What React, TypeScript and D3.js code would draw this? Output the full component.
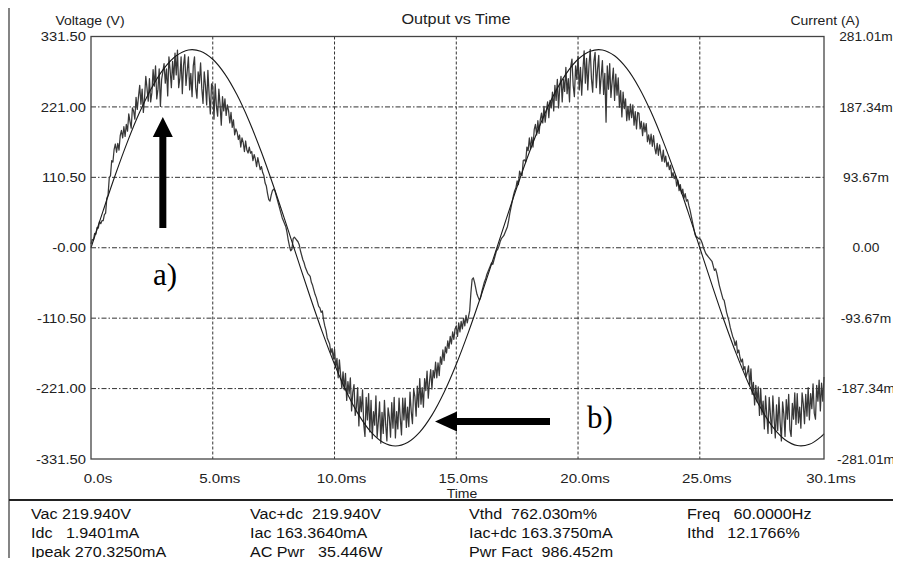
import React from "react";
import * as d3 from "d3";

// ---- Data ----
const voltageTimeMs = [
  0, 0.5, 1, 1.5, 2, 2.5, 3, 3.5, 4, 4.5, 5, 5.5, 6, 6.5, 7, 7.5, 8, 8.5, 9, 9.5,
  10, 10.5, 11, 11.5, 12, 12.5, 13, 13.5, 14, 14.5, 15, 15.5, 16, 16.5, 17, 17.5,
  18, 18.5, 19, 19.5, 20, 20.5, 21, 21.5, 22, 22.5, 23, 23.5, 24, 24.5, 25, 25.5,
  26, 26.5, 27, 27.5, 28, 28.5, 29, 29.5, 30, 30.1,
];
const voltageV = [
  0, 58.3, 114.5, 166.6, 212.9, 251.6, 281.4, 301.2, 310.4, 308.5, 295.8, 272.5,
  239.6, 198.2, 149.8, 96.1, 39.0, -19.5, -77.3, -132.4, -182.8, -226.7, -262.6,
  -289.2, -305.5, -311, -305.5, -289.2, -262.6, -226.7, -182.8, -132.4, -77.3,
  -19.5, 39.0, 96.1, 149.8, 198.2, 239.6, 272.5, 295.8, 308.5, 310.4, 301.2,
  281.4, 251.6, 212.9, 166.6, 114.5, 58.3, 0, -58.3, -114.5, -166.6, -212.9,
  -251.6, -281.4, -301.2, -310.4, -308.5, -295.8, -291.9,
];

// current samples (mA), one every 0.05 ms from 0 ms
const currentStepMs = 0.05;
const currentMA = [
  5, 11, 10, 19, 18, 27, 26, 35, 32, 36,
  36, 44, 46, 66, 70, 93, 96, 116, 114, 131,
  138, 127, 139, 130, 149, 156, 146, 161, 148, 164,
  155, 178, 168, 159, 186, 182, 171, 200, 184, 201,
  216, 191, 211, 180, 200, 228, 212, 195, 225, 194,
  206, 237, 215, 242, 198, 211, 238, 188, 224, 234,
  245, 219, 238, 202, 254, 236, 213, 248, 224, 259,
  230, 263, 213, 226, 254, 205, 243, 257, 216, 235,
  254, 210, 232, 201, 242, 254, 213, 199, 234, 219,
  246, 212, 192, 234, 216, 190, 236, 204, 178, 218,
  215, 171, 218, 188, 175, 211, 190, 163, 201, 182,
  198, 176, 190, 182, 166, 180, 160, 170, 150, 158,
  154, 144, 150, 134, 146, 140, 128, 142, 130, 126,
  134, 126, 128, 116, 124, 118, 108, 120, 112, 104,
  108, 100, 96, 86, 82, 72, 64, 62, 70, 76,
  78, 76, 70, 64, 58, 52, 46, 40, 36, 32,
  28, 20, 10, 2, -4, -2, 12, 14, 12, 10,
  8, 4, -4, -10, -16, -20, -26, -30, -34, -36,
  -38, -46, -50, -56, -62, -66, -72, -78, -80, -86,
  -84, -96, -104, -110, -120, -124, -128, -140, -134, -148,
  -135, -159, -147, -173, -149, -169, -187, -165, -189, -167,
  -203, -178, -194, -173, -217, -192, -182, -223, -212, -186,
  -237, -198, -218, -189, -235, -251, -199, -229, -194, -245,
  -203, -254, -218, -236, -197, -252, -231, -205, -260, -219,
  -247, -203, -235, -257, -213, -225, -252, -206, -240, -199,
  -253, -218, -241, -200, -227, -249, -200, -229, -200, -239,
  -212, -238, -192, -218, -234, -188, -198, -224, -184, -212,
  -174, -208, -186, -212, -174, -190, -164, -200, -178, -162,
  -188, -163, -173, -152, -173, -153, -170, -145, -155, -136,
  -150, -132, -140, -124, -134, -118, -128, -112, -122, -108,
  -104, -118, -100, -112, -98, -108, -94, -104, -90, -100,
  -92, -84, -60, -42, -40, -46, -54, -62, -66, -70,
  -66, -58, -52, -46, -42, -36, -32, -28, -24, -20,
  -22, -16, -10, -4, -2, 2, 8, 12, 14, 16,
  20, 24, 28, 36, 46, 54, 62, 70, 76, 80,
  89, 84, 102, 97, 96, 116, 117, 114, 134, 129,
  146, 131, 147, 134, 157, 164, 150, 169, 152, 170,
  179, 166, 188, 167, 182, 194, 173, 196, 186, 207,
  182, 216, 196, 224, 186, 214, 228, 194, 224, 208,
  240, 205, 225, 194, 241, 251, 216, 201, 242, 224,
  255, 210, 240, 203, 236, 262, 219, 252, 210, 243,
  264, 225, 207, 248, 260, 213, 237, 256, 205, 228,
  249, 204, 232, 167, 242, 211, 245, 200, 221, 239,
  196, 231, 203, 226, 187, 209, 174, 207, 185, 198,
  169, 188, 170, 191, 173, 190, 163, 181, 158, 180,
  179, 158, 168, 149, 166, 154, 165, 141, 150, 138,
  151, 135, 149, 133, 125, 139, 123, 137, 125, 115,
  130, 114, 122, 108, 114, 104, 110, 94, 100, 92,
  96, 82, 90, 76, 84, 72, 78, 66, 72, 62,
  64, 56, 50, 42, 34, 26, 18, 14, 14, 12,
  12, 10, 6, 0, -4, -8, -10, -12, -14, -16,
  -18, -24, -30, -28, -34, -42, -50, -56, -62, -68,
  -70, -78, -86, -92, -98, -106, -112, -118, -122, -130,
  -124, -140, -136, -146, -152, -148, -162, -158, -172, -166,
  -157, -183, -161, -195, -179, -209, -183, -205, -185, -223,
  -187, -222, -204, -241, -197, -222, -247, -199, -222, -247,
  -197, -227, -253, -209, -243, -199, -233, -257, -205, -221,
  -251, -202, -228, -195, -242, -251, -207, -228, -193, -235,
  -194, -233, -212, -240, -193, -208, -234, -195, -224, -186,
  -229, -194, -214, -181, -220, -228, -183, -204, -176, -217,
  -180, -204, -172,
];

const xTickValues = [0, 5, 10, 15, 20, 25, 30.1];
const xTickLabels = ["0.0s", "5.0ms", "10.0ms", "15.0ms", "20.0ms", "25.0ms", "30.1ms"];
const vTickValues = [331.5, 221, 110.5, 0, -110.5, -221, -331.5];
const vTickLabels = ["331.50", "221.00", "110.50", "-0.00", "-110.50", "-221.00", "-331.50"];
const iTickValues = [281.01, 187.34, 93.67, 0, -93.67, -187.34, -281.01];
const iTickLabels = ["281.01m", "187.34m", "93.67m", "0.00", "-93.67m", "-187.34m", "-281.01m"];
const gridX = [5, 10, 15, 20, 25];
const gridV = [221, 110.5, 0, -110.5, -221];

const statsColumns = [
  ["Vac 219.940V", "Idc   1.9401mA", "Ipeak 270.3250mA"],
  ["Vac+dc  219.940V", "Iac 163.3640mA", "AC Pwr   35.446W"],
  ["Vthd  762.030m%", "Iac+dc 163.3750mA", "Pwr Fact  986.452m"],
  ["Freq   60.0000Hz", "Ithd   12.1766%"],
];

// ---- Layout ----
const W = 901;
const H = 566;
const L = 91, R = 824, T = 36.5, B = 459;
const SX = 1.12;
const FONT = "'Liberation Sans', Arial, Helvetica, sans-serif";
const SERIF = "'Liberation Serif', 'Times New Roman', serif";

function ST({ x, y, size, anchor = "start", children, fill = "#222" }: any) {
  return (
    <g transform={`translate(${x},${y}) scale(${SX},1)`}>
      <text
        x={0}
        y={0}
        fontSize={size}
        fontFamily={FONT}
        textAnchor={anchor}
        fill={fill}
        style={{ whiteSpace: "pre" }}
      >
        {children}
      </text>
    </g>
  );
}

export default function App() {
  const x = d3.scaleLinear().domain([0, 30.1]).range([L, R]);
  const yV = d3.scaleLinear().domain([-331.5, 331.5]).range([B, T]);
  const yI = d3.scaleLinear().domain([-281.01, 281.01]).range([B, T]);

  const vLine = d3
    .line<number>()
    .x((_, i) => x(voltageTimeMs[i]))
    .y((d) => yV(d))
    .curve(d3.curveCatmullRom.alpha(0.5));
  const iLine = d3
    .line<number>()
    .x((_, i) => x(Math.min(i * currentStepMs, 30.1)))
    .y((d) => yI(d));

  const colX = [31, 250, 469, 687];
  const rowY = [519, 538, 557];

  return (
    <div style={{ margin: -8 }}>
      <svg width={W} height={H} style={{ display: "block", background: "#fff" }}>
        {/* outer frame */}
        <line x1={9} y1={5} x2={W} y2={5} stroke="#333" strokeWidth={1.2} />
        <line x1={9} y1={5} x2={9} y2={H} stroke="#333" strokeWidth={1.2} />
        <line x1={9} y1={500} x2={W} y2={500} stroke="#222" strokeWidth={2} />

        {/* grid */}
        {gridX.map((g) => (
          <line key={"gx" + g} x1={x(g)} x2={x(g)} y1={T} y2={B} stroke="#333" strokeWidth={1} strokeDasharray="3,2" />
        ))}
        {gridV.map((g) => (
          <line key={"gy" + g} x1={L} x2={R} y1={yV(g)} y2={yV(g)} stroke="#333" strokeWidth={1} strokeDasharray="5,2,1.5,2" />
        ))}

        {/* series */}
        <path d={iLine(currentMA) || ""} fill="none" stroke="#383838" strokeWidth={1.25} strokeLinejoin="round" />
        <path d={vLine(voltageV) || ""} fill="none" stroke="#1a1a1a" strokeWidth={1.1} />

        {/* plot border */}
        <rect x={L} y={T} width={R - L} height={B - T} fill="none" stroke="#444" strokeWidth={1.3} />

        {/* titles */}
        <ST x={456} y={24} size={14.5} anchor="middle">Output vs Time</ST>
        <ST x={90} y={25} size={12.5} anchor="middle">Voltage (V)</ST>
        <ST x={825} y={25} size={12.5} anchor="middle">Current (A)</ST>
        <ST x={462} y={498} size={12.5} anchor="middle">Time</ST>

        {/* left ticks */}
        {vTickValues.map((v, i) => (
          <ST key={"vl" + i} x={86} y={yV(v) + 4.7} size={13.2} anchor="end">{vTickLabels[i]}</ST>
        ))}
        {/* right ticks */}
        {iTickValues.map((v, i) => (
          <ST key={"il" + i} x={866} y={yI(v) + 4.6} size={12.3} anchor="middle">{iTickLabels[i]}</ST>
        ))}
        {/* x ticks */}
        {xTickValues.map((v, i) => (
          <ST key={"xl" + i} x={x(v) + 7} y={483} size={13.5} anchor="middle">{xTickLabels[i]}</ST>
        ))}

        {/* annotations */}
        <line x1={x(2.95)} x2={x(2.95)} y1={228} y2={136} stroke="#000" strokeWidth={7} />
        <path
          d={`M${x(2.95)},117 L${x(2.95) + 10},137 L${x(2.95) - 10},137 Z`}
          fill="#000"
        />
        <text x={153} y={285} fontSize={31} fontFamily={SERIF} fill="#000">a)</text>

        <line x1={550} x2={456} y1={421.5} y2={421.5} stroke="#000" strokeWidth={7} />
        <path d={`M435,421.5 L457,411.5 L457,431.5 Z`} fill="#000" />
        <text x={587} y={428} fontSize={31} fontFamily={SERIF} fill="#000">b)</text>

        {/* stats */}
        {statsColumns.map((col, ci) =>
          col.map((s, ri) => (
            <ST key={"s" + ci + ri} x={colX[ci]} y={rowY[ri]} size={14.4} fill="#111">{s}</ST>
          ))
        )}
      </svg>
    </div>
  );
}
